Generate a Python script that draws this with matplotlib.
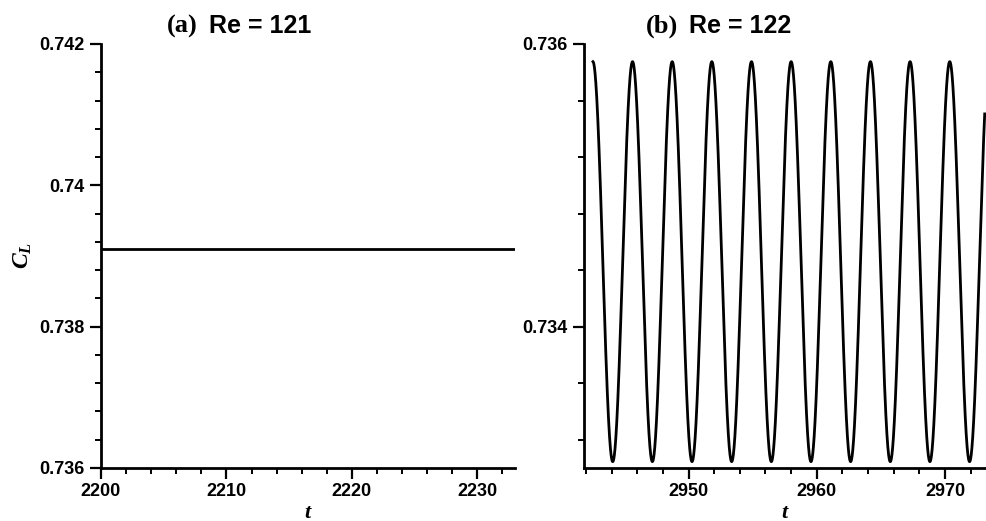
import numpy as np
import matplotlib
matplotlib.use("Agg")
import matplotlib.pyplot as plt
from matplotlib.ticker import MultipleLocator, FuncFormatter

plt.rcParams['font.family'] = 'Liberation Sans'
plt.rcParams['font.weight'] = 'bold'
plt.rcParams['mathtext.fontset'] = 'custom'
plt.rcParams['mathtext.rm'] = 'Liberation Serif:bold'
plt.rcParams['mathtext.it'] = 'Liberation Serif:italic:bold'

# steady case, Re = 121
t_steady = [2200.0, 2233.0]
cl_steady = [0.7391, 0.7391]

# periodic case, Re = 122 (mean, amplitude, period, time of first trough)
cl_mean = 0.73446
cl_amp = 0.001415
period = 3.092
t_trough = 2944.09
t_start, t_end = 2942.55, 2973.1
xlim_b = (2941.85, 2973.2)

titles = [("(a)", "Re = 121"), ("(b)", "Re = 122")]

t_osc = np.linspace(t_start, t_end, 3000)
cl_osc = cl_mean - cl_amp * np.cos(2 * np.pi * (t_osc - t_trough) / period)

W, H = 987, 521
fig = plt.figure(figsize=(W / 100, H / 100), dpi=100)
ax1 = fig.add_axes([101 / W, 53 / H, 414 / W, 424 / H])
ax2 = fig.add_axes([584 / W, 53 / H, 402 / W, 424 / H])

ax1.plot(t_steady, cl_steady, color='k', lw=2)
ax1.set_xlim(2200, 2233)
ax1.set_ylim(0.736, 0.742)
ax1.xaxis.set_major_locator(MultipleLocator(10))
ax1.yaxis.set_major_locator(MultipleLocator(0.002))

ax2.plot(t_osc, cl_osc, color='k', lw=2)
ax2.set_xlim(*xlim_b)
ax2.set_ylim(0.733, 0.736)
ax2.xaxis.set_major_locator(MultipleLocator(10))
ax2.yaxis.set_major_locator(MultipleLocator(0.002))

fmt = FuncFormatter(lambda v, p: f"{v:.3f}".rstrip('0'))
for ax in (ax1, ax2):
    ax.xaxis.set_minor_locator(MultipleLocator(2))
    ax.yaxis.set_minor_locator(MultipleLocator(0.0004))
    ax.yaxis.set_major_formatter(fmt)
    ax.xaxis.set_major_formatter(FuncFormatter(lambda v, p: f"{v:.0f}"))
    for s in ('top', 'right'):
        ax.spines[s].set_visible(False)
    for s in ('left', 'bottom'):
        ax.spines[s].set_linewidth(2)
    ax.tick_params(which='major', direction='out', length=8, width=1.6,
                   labelsize=13)
    ax.tick_params(which='minor', direction='out', length=4.3, width=1.4)
    ax.tick_params(axis='x', pad=2.5)
    ax.tick_params(axis='y', pad=4)
    ax.set_xlabel(r'$t$', fontsize=16, labelpad=1.5)

fig.text(22 / W, 1 - 255 / H, r'$C_L$', rotation=90, fontsize=17,
         ha='center', va='center')

for (tag, re), x in zip(titles, (203, 683)):
    y = 1 - 33 / H
    fig.text(x / W - 5 / W, y, tag, fontsize=19, family='Liberation Serif',
             weight='bold', ha='right', va='baseline')
    fig.text(x / W + 6 / W, y, re, fontsize=18, weight='bold',
             ha='left', va='baseline')

fig.savefig('out.png', dpi=100)
